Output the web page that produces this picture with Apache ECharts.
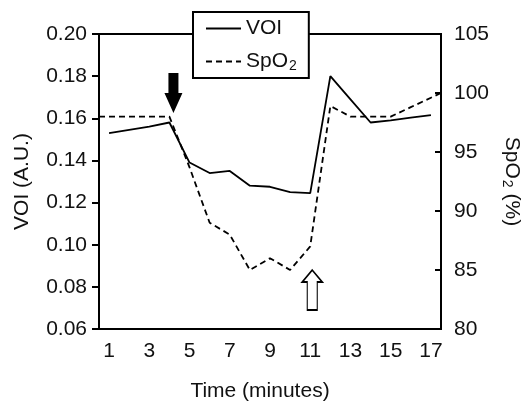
<!DOCTYPE html>
<html>
<head>
<meta charset="utf-8">
<script src="https://cdn.jsdelivr.net/npm/echarts@6/dist/echarts.min.js"></script>
<style>
html, body { margin: 0; padding: 0; background: #fff; }
#chart { width: 524px; height: 405px; }
</style>
</head>
<body>
<div id="chart"></div>
<script>
// 数据
var categories = ['1','2','3','4','5','6','7','8','9','10','11','12','13','14','15','16','17'];
var voi = [0.153, 0.1545, 0.156, 0.158, 0.139, 0.134, 0.135, 0.128, 0.1275, 0.125, 0.1245, 0.180, 0.169, 0.158, 0.159, 0.1603, 0.1615];
var spo2Time = [0.5, 1, 2, 3, 4, 5, 6, 7, 8, 9, 10, 11, 12, 13, 14, 15, 16, 17, 17.5];
var spo2 = [98, 98, 98, 98, 98, 93.7, 89, 88, 85, 86, 85, 87, 98.9, 98, 98, 98, 98.8, 99.6, 100];
// 箭头位置（时间，SpO2刻度）
var arrowTime = [4.2, 11.1];
var arrowLevel = [100, 83.3];

var font = 'Liberation Sans, Arial, sans-serif';
var txt = '#111';
var fs = 21;

var spo2Data = [];
for (var i = 0; i < spo2Time.length; i++) {
    spo2Data.push([spo2Time[i], spo2[i]]);
}

var subRich = {
    sub: { fontSize: 14, fontFamily: font, color: txt, verticalAlign: 'top', padding: [9, 0, 0, 1] }
};

var myChart = echarts.init(document.getElementById('chart'));

var option = {
    animation: false,
    textStyle: { fontFamily: font },
    grid: { left: 99, right: 83, top: 34, bottom: 76, outerBoundsMode: 'none', show: true, borderColor: '#000', borderWidth: 2, backgroundColor: 'transparent' },
    legend: {
        orient: 'vertical',
        left: 193,
        top: 12,
        padding: [6, 12, 5, 12],
        itemWidth: 35,
        itemHeight: 24,
        itemGap: 12,
        backgroundColor: '#fff',
        borderColor: '#000',
        borderWidth: 2,
        borderRadius: 0,
        data: ['VOI', 'SpO2'],
        itemStyle: { color: 'rgba(0,0,0,0)', borderColor: 'rgba(0,0,0,0)', borderWidth: 0 },
        formatter: function (name) {
            return name == 'SpO2' ? 'SpO{sub|2}' : name;
        },
        textStyle: { fontSize: fs, color: txt, fontFamily: font, rich: subRich }
    },
    xAxis: [{
        type: 'category',
        data: categories,
        boundaryGap: true,
        name: 'Time (minutes)',
        nameLocation: 'middle',
        nameGap: 52,
        nameTextStyle: { fontSize: fs, color: txt, fontFamily: font, padding: [0, 20, 0, 0] },
        axisLine: { lineStyle: { color: '#000', width: 2 } },
        axisTick: { inside: true, length: 6, interval: 1, lineStyle: { color: '#000', width: 2 } },
        axisLabel: { interval: 1, fontSize: fs, color: txt, margin: 12 },
        splitLine: { show: false }
    }, {
        type: 'value',
        min: 0.5,
        max: 17.5,
        show: false
    }],
    yAxis: [{
        type: 'value',
        min: 0.06,
        max: 0.20,
        interval: 0.02,
        name: 'VOI (A.U.)',
        nameLocation: 'middle',
        nameGap: 66,
        nameTextStyle: { fontSize: fs, color: txt, fontFamily: font },
        axisLine: { show: true, lineStyle: { color: '#000', width: 2 } },
        axisTick: { show: true, length: 7, lineStyle: { color: '#000', width: 2 } },
        axisLabel: { fontSize: fs, color: txt, margin: 12, formatter: function (v) { return v.toFixed(2); } },
        splitLine: { show: false }
    }, {
        type: 'value',
        position: 'right',
        min: 80,
        max: 105,
        interval: 5,
        name: 'SpO{sub|2} (%)',
        nameLocation: 'middle',
        nameGap: 57,
        nameRotate: -90,
        nameTextStyle: { fontSize: fs, color: txt, fontFamily: font, rich: subRich },
        axisLine: { show: true, lineStyle: { color: '#000', width: 2 } },
        axisTick: { show: true, inside: true, length: 6, lineStyle: { color: '#000', width: 2 } },
        axisLabel: { fontSize: fs, color: txt, margin: 13 },
        splitLine: { show: false }
    }],
    series: [{
        name: 'VOI',
        type: 'line',
        xAxisIndex: 0,
        yAxisIndex: 0,
        data: voi,
        symbol: 'none',
        lineStyle: { color: '#000', width: 1.8 },
        itemStyle: { color: '#000' }
    }, {
        name: 'SpO2',
        type: 'line',
        xAxisIndex: 1,
        yAxisIndex: 1,
        data: spo2Data,
        symbol: 'none',
        lineStyle: { color: '#000', width: 1.8, type: [6, 4] },
        itemStyle: { color: '#000' },
        // 两个箭头
        markPoint: {
            label: { show: false },
            data: [{
                coord: [arrowTime[0], arrowLevel[0]],
                symbol: 'path://M4,0 L14,0 L14,20 L18,20 L9,40 L0,20 L4,20 Z',
                symbolSize: [18, 40],
                itemStyle: { color: '#000' }
            }, {
                coord: [arrowTime[1], arrowLevel[1]],
                symbol: 'path://M10,0 L20,12 L15,12 L15,40 L5,40 L5,12 L0,12 Z',
                symbolSize: [20, 40],
                itemStyle: { color: '#fff', borderColor: '#000', borderWidth: 1.5 }
            }]
        }
    }]
};

myChart.setOption(option);
</script>
</body>
</html>
